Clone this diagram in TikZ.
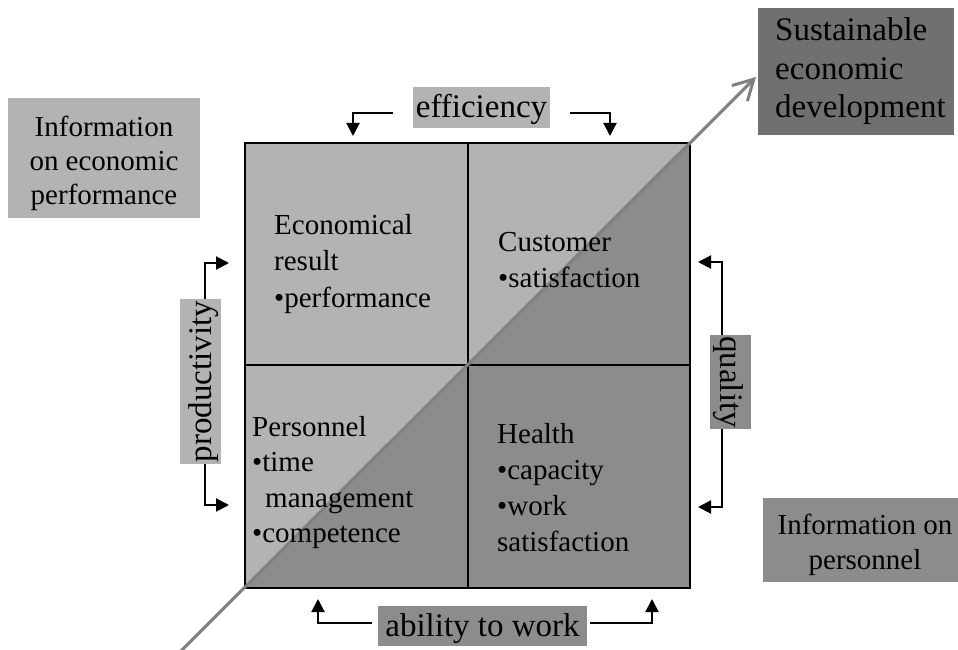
\documentclass[tikz,border=0pt]{standalone}
\usepackage{fontspec}
\setmainfont{Liberation Serif}
\usetikzlibrary{arrows.meta}
\definecolor{lightg}{HTML}{B3B3B3}
\definecolor{darkg}{HTML}{8C8C8C}
\definecolor{darkerg}{HTML}{707070}
\definecolor{diagc}{HTML}{808080}
\newcommand\mystackL[2]{\vtop{\baselineskip=#1\lineskiplimit=-100pt\lineskip=0pt\halign{##\hfil\cr#2\crcr}}}
\newcommand\mystackC[2]{\vtop{\baselineskip=#1\lineskiplimit=-100pt\lineskip=0pt\halign{\hfil##\hfil\cr#2\crcr}}}
\begin{document}
\begin{tikzpicture}[x=1pt,y=-1pt,
  conn/.style={line width=2pt, -{Triangle[length=13pt,width=13pt]}},
  lbox/.style={inner sep=0pt, text height=26pt, text depth=5pt, font=\fontsize{33}{38}\selectfont},
  qtext/.style={inner sep=0pt, anchor=base west, font=\fontsize{29}{36}\selectfont},
  itext/.style={inner sep=0pt, anchor=base, font=\fontsize{29}{34}\selectfont},
  diagline/.style={diagc, line width=3pt, -{Straight Barb[length=20pt,width=22pt,line width=3pt]}}
]
\useasboundingbox (0,0) rectangle (958,650);

% quadrant fills
\fill[lightg] (245,143) -- (690,143) -- (245,588) -- cycle;
\fill[darkg] (690,143) -- (690,588) -- (245,588) -- cycle;
\draw[line width=2pt] (468,143) -- (468,588);
\draw[line width=2pt] (245,365) -- (690,365);
\draw[line width=2.5pt] (245,143) rectangle (690,588);

% info boxes
\fill[lightg] (8,98) rectangle (200,218);
\node[itext] (infoecon) at (104,136) {\mystackC{34pt}{Information\cr on economic\cr performance}};
\fill[darkg] (763,498) rectangle (970,582);
\node[itext] (infopers) at (865,534) {\mystackC{35pt}{Information on\cr personnel}};
\fill[darkerg] (758,8) rectangle (954,135);
\node[inner sep=0pt, anchor=base west, font=\fontsize{33}{38}\selectfont] (sed) at (775,41) {\mystackL{38.5pt}{Sustainable\cr economic\cr development}};

% labels
\node[lbox, fill=lightg, minimum width=137pt, minimum height=41pt] (eff) at (481.5,107.5) {efficiency};
\node[lbox, fill=lightg, minimum width=165pt, minimum height=41pt, rotate=90] (prod) at (200.5,381.5) {productivity};
\node[lbox, fill=darkg, minimum width=94pt, minimum height=41pt, rotate=-90] (qual) at (730.5,382) {quality};
\node[lbox, fill=darkg, minimum width=209pt, minimum height=40pt] (abil) at (482.5,626) {ability to work};

% connectors
\coordinate (ea1) at (393,113); \coordinate (ea2) at (353,136);
\coordinate (eb1) at (570,113); \coordinate (eb2) at (610,136);
\draw[conn] (ea1) -| (ea2);
\draw[conn] (eb1) -| (eb2);
\coordinate (pa1) at (205,299); \coordinate (pa2) at (229,263);
\coordinate (pb1) at (205,464); \coordinate (pb2) at (229,505);
\draw[conn] (pa1) |- (pa2);
\draw[conn] (pb1) |- (pb2);
\coordinate (qa1) at (722,335); \coordinate (qa2) at (698,262);
\coordinate (qb1) at (722,429); \coordinate (qb2) at (698,507);
\draw[conn] (qa1) |- (qa2);
\draw[conn] (qb1) |- (qb2);
\coordinate (aa1) at (372,623); \coordinate (aa2) at (318,599);
\coordinate (ab1) at (590,623); \coordinate (ab2) at (652,599);
\draw[conn] (aa1) -| (aa2);
\draw[conn] (ab1) -| (ab2);

% diagonal arrow
\coordinate (tail) at (180,652);
\coordinate (tip) at (756,77);
\draw[diagline] (tail) -- (tip);

% quadrant texts
\node[qtext] (econ) at (274,234) {\mystackL{36.5pt}{Economical\cr result\cr •performance}};
\node[qtext] (cust) at (498,251) {\mystackL{36pt}{Customer\cr •satisfaction}};
\node[qtext] (pers) at (252,436) {\mystackL{35.5pt}{Personnel\cr •time\cr \hspace{13pt}management\cr •competence}};
\node[qtext] (health) at (497,443) {\mystackL{36pt}{Health\cr •capacity\cr •work\cr satisfaction}};
\end{tikzpicture}
\end{document}
